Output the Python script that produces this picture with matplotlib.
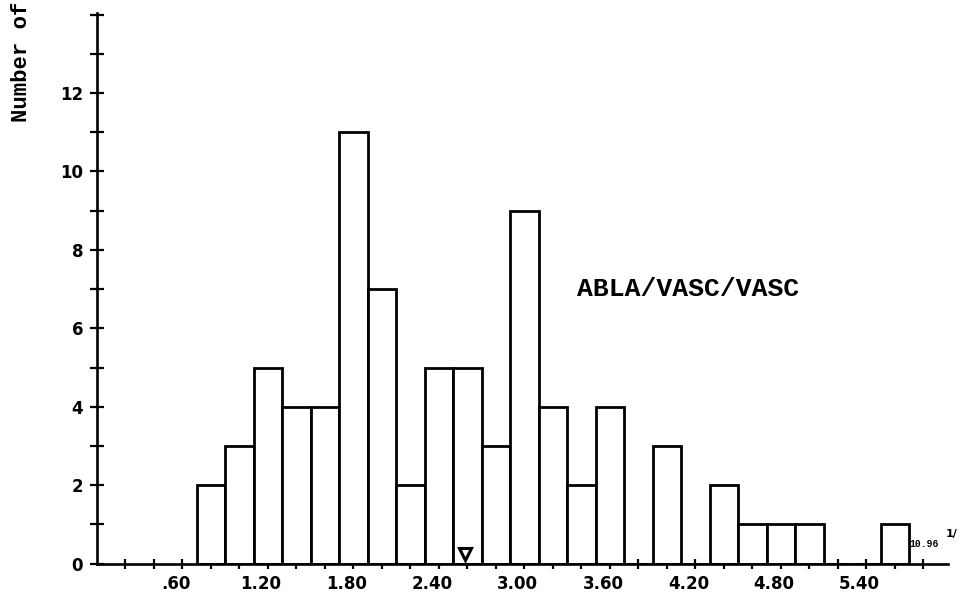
import matplotlib
matplotlib.use("Agg")
import matplotlib.pyplot as plt
import matplotlib.transforms as mtransforms
import numpy as np

# histogram counts, one bin every 0.2 (bin centres)
bin_centers = [0.8, 1.0, 1.2, 1.4, 1.6, 1.8, 2.0, 2.2, 2.4, 2.6, 2.8, 3.0, 3.2,
               3.4, 3.6, 3.8, 4.0, 4.2, 4.4, 4.6, 4.8, 5.0, 5.2, 5.4, 5.6]
counts = [2, 3, 5, 4, 4, 11, 7, 2, 5, 5, 3, 9, 4,
          2, 4, 0, 3, 0, 2, 1, 1, 1, 0, 0, 1]
bin_width = 0.2

xtick_values = [0.6, 1.2, 1.8, 2.4, 3.0, 3.6, 4.2, 4.8, 5.4]
xtick_labels = [".60", "1.20", "1.80", "2.40", "3.00", "3.60", "4.20", "4.80", "5.40"]
ytick_values = [0, 2, 4, 6, 8, 10, 12]
mean_marker = 2.58
series_label = "ABLA/VASC/VASC"
ylabel = "Number of"

fig = plt.figure(figsize=(9.67, 6.01), dpi=100)
ax = fig.add_axes([97 / 967, 37.4 / 601, 851 / 967, 551 / 601])

ax.bar(bin_centers, counts, width=bin_width, color="white",
       edgecolor="black", linewidth=2.0, zorder=2)

ax.set_xlim(0, 5.972)
ax.set_ylim(0, 14.05)

for side in ("top", "right"):
    ax.spines[side].set_visible(False)
for side in ("left", "bottom"):
    ax.spines[side].set_linewidth(1.9)
    ax.spines[side].set_zorder(3)

ax.set_xticks(xtick_values, xtick_labels)
ax.set_xticks(np.arange(1, 30) * 0.2, minor=True)
ax.set_yticks(ytick_values, [str(v) for v in ytick_values])
ax.set_yticks(np.arange(1, 15), minor=True)

ax.tick_params(axis="both", which="both", direction="inout", color="black", width=1.6)
ax.tick_params(axis="y", which="both", length=10)
ax.tick_params(axis="x", which="both", length=7)
ax.tick_params(axis="y", which="major", pad=5)
ax.tick_params(axis="x", which="major", pad=5)

for lbl in ax.get_xticklabels() + ax.get_yticklabels():
    lbl.set_fontfamily("DejaVu Sans")
    lbl.set_fontweight("bold")
    lbl.set_fontsize(12)

shift = mtransforms.ScaledTranslation(-0.07, 0, fig.dpi_scale_trans)
for lbl in ax.get_xticklabels():
    lbl.set_transform(lbl.get_transform() + shift)

# open triangle sitting on the axis
ax.plot([mean_marker], [0.24], marker="v", markersize=9, markerfacecolor="white",
        markeredgecolor="black", markeredgewidth=2.2, clip_on=False, zorder=4)

ax.text(3.37, 7.0, series_label, fontfamily="Liberation Mono", fontsize=19,
        fontweight="bold", ha="left", va="center")

ax.text(5.70, 0.5, "10.96", fontfamily="Liberation Mono", fontsize=7,
        fontweight="bold", ha="left", va="center")
ax.text(5.955, 0.75, "1/", fontfamily="DejaVu Sans", fontsize=8,
        fontweight="bold", ha="left", va="center")

fig.text(22 / 967, 1 - 62 / 601, ylabel, rotation=90, fontfamily="Liberation Mono",
         fontsize=16, fontweight="bold", ha="center", va="center")

fig.savefig("out.png", dpi=100)
